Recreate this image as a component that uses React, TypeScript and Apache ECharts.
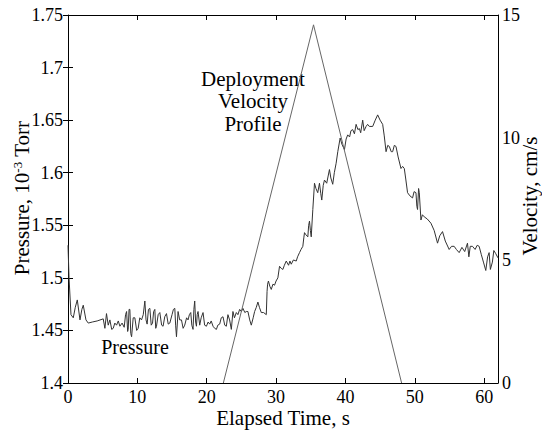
import React, { useEffect, useRef } from "react";
import * as echarts from "echarts";

// Pressure trace: [elapsed time (s), pressure (10^-3 Torr)]
const pressureData: [number, number][] = [
  [0, 1.531], [0.15, 1.5], [0.43, 1.465], [0.76, 1.462], [1.05, 1.472], [1.34, 1.479],
  [1.73, 1.46], [2.0, 1.47], [2.2, 1.474], [2.59, 1.46], [2.92, 1.457], [3.5, 1.458],
  [4.2, 1.459], [5.08, 1.461], [5.32, 1.452], [5.55, 1.466], [5.8, 1.455], [6.04, 1.46],
  [6.3, 1.451], [6.52, 1.452], [6.75, 1.457], [7.0, 1.455], [7.25, 1.459], [7.48, 1.454],
  [7.8, 1.457], [8.1, 1.453], [8.3, 1.465], [8.45, 1.468], [8.6, 1.449], [8.68, 1.451],
  [8.8, 1.47], [8.92, 1.47], [9.05, 1.447], [9.17, 1.444], [9.4, 1.462], [9.64, 1.462],
  [9.9, 1.45], [10.12, 1.452], [10.35, 1.462], [10.6, 1.46], [10.85, 1.465], [11.08, 1.478],
  [11.25, 1.46], [11.41, 1.456], [11.6, 1.47], [11.8, 1.471], [12.0, 1.455], [12.19, 1.457],
  [12.35, 1.468], [12.52, 1.47], [12.65, 1.452], [12.76, 1.454], [13.0, 1.465], [13.24, 1.467],
  [13.5, 1.455], [13.71, 1.454], [13.95, 1.463], [14.2, 1.466], [14.45, 1.456], [14.68, 1.457],
  [15.0, 1.465], [15.2, 1.47], [15.4, 1.471], [15.52, 1.455], [15.64, 1.444], [15.87, 1.468],
  [16.1, 1.46], [16.36, 1.46], [16.6, 1.452], [16.83, 1.455], [17.1, 1.462], [17.31, 1.46],
  [17.5, 1.465], [17.7, 1.467], [17.85, 1.455], [18.03, 1.451], [18.15, 1.47], [18.27, 1.478],
  [18.4, 1.458], [18.52, 1.454], [18.63, 1.465], [18.75, 1.468], [18.99, 1.455], [19.2, 1.462],
  [19.47, 1.467], [19.7, 1.455], [19.96, 1.454], [20.2, 1.458], [20.43, 1.456], [20.65, 1.459],
  [20.91, 1.454], [21.15, 1.452], [21.4, 1.451], [21.6, 1.455], [21.87, 1.456], [22.1, 1.462],
  [22.35, 1.463], [22.6, 1.455], [22.83, 1.454], [23.06, 1.465], [23.3, 1.46], [23.55, 1.451],
  [23.78, 1.468], [24.0, 1.462], [24.27, 1.467], [24.5, 1.465], [24.75, 1.47], [25.0, 1.468],
  [25.22, 1.471], [25.5, 1.467], [25.71, 1.468], [25.94, 1.468], [26.2, 1.46], [26.43, 1.455],
  [26.7, 1.462], [26.91, 1.468], [27.15, 1.472], [27.38, 1.477], [27.6, 1.472], [27.87, 1.467],
  [28.2, 1.467], [28.59, 1.465], [28.7, 1.487], [28.78, 1.494], [28.9, 1.497], [29.1, 1.492],
  [29.31, 1.489], [29.55, 1.494], [29.78, 1.493], [30.0, 1.497], [30.26, 1.5], [30.5, 1.511],
  [30.75, 1.509], [30.98, 1.508], [31.2, 1.512], [31.47, 1.516], [31.8, 1.512], [32.0, 1.516],
  [32.19, 1.513], [32.5, 1.517], [32.91, 1.516], [33.1, 1.52], [33.38, 1.524], [33.6, 1.527],
  [33.86, 1.53], [34.0, 1.538], [34.1, 1.543], [34.3, 1.541], [34.58, 1.539], [34.7, 1.55],
  [34.82, 1.554], [34.95, 1.545], [35.07, 1.539], [35.3, 1.565], [35.54, 1.59], [35.75, 1.585],
  [36.01, 1.581], [36.26, 1.59], [36.45, 1.58], [36.59, 1.574], [36.8, 1.588], [36.98, 1.593],
  [37.3, 1.59], [37.7, 1.603], [37.9, 1.595], [38.17, 1.589], [38.4, 1.6], [38.66, 1.609],
  [38.9, 1.62], [39.24, 1.633], [39.5, 1.627], [39.86, 1.622], [40.1, 1.632], [40.33, 1.636],
  [40.6, 1.634], [40.8, 1.64], [41.05, 1.641], [41.3, 1.637], [41.54, 1.646], [41.8, 1.641],
  [42.01, 1.642], [42.2, 1.638], [42.49, 1.65], [42.7, 1.64], [42.98, 1.644], [43.2, 1.646],
  [43.45, 1.644], [43.93, 1.644], [44.3, 1.65], [44.65, 1.655], [45.0, 1.65], [45.37, 1.646],
  [45.6, 1.635], [45.86, 1.62], [46.1, 1.626], [46.33, 1.625], [46.6, 1.62], [46.81, 1.62],
  [47.05, 1.626], [47.29, 1.625], [47.6, 1.615], [48.01, 1.604], [48.25, 1.606], [48.49, 1.604],
  [48.7, 1.594], [48.96, 1.581], [49.3, 1.578], [49.68, 1.576], [49.9, 1.582], [50.17, 1.581],
  [50.3, 1.568], [50.4, 1.565], [50.55, 1.585], [50.65, 1.581], [50.89, 1.555], [51.1, 1.56],
  [51.37, 1.558], [51.8, 1.556], [52.33, 1.552], [52.8, 1.545], [53.28, 1.533], [53.6, 1.54],
  [54.0, 1.544], [54.4, 1.535], [54.96, 1.527], [55.3, 1.53], [55.68, 1.53], [56.0, 1.527],
  [56.4, 1.524], [56.8, 1.529], [57.2, 1.525], [57.6, 1.533], [57.8, 1.52], [58.0, 1.53],
  [58.32, 1.53], [58.7, 1.527], [59.0, 1.531], [59.28, 1.53], [59.6, 1.522], [59.9, 1.515],
  [60.24, 1.507], [60.5, 1.52], [60.72, 1.524], [60.9, 1.508], [61.19, 1.515], [61.4, 1.526],
  [61.68, 1.523], [62.0, 1.519],
];

// Deployment velocity profile: [elapsed time (s), velocity (cm/s)]
const velocityData: [number, number][] = [
  [22.4, 0],
  [35.4, 14.6],
  [48.1, 0],
];

const timeTicks = { min: 0, max: 62, interval: 10 };
const pressureTicks = { min: 1.4, max: 1.75, interval: 0.05 };
const velocityTicks = { min: 0, max: 15, interval: 5 };

const FONT = "'Liberation Serif', 'Times New Roman', serif";
const INK = "#000";

export default function App() {
  const ref = useRef<HTMLDivElement>(null);

  useEffect(() => {
    if (!ref.current) return;
    const chart = echarts.init(ref.current, undefined, { renderer: "svg" });

    const tickLabel = { color: INK, fontFamily: FONT, fontSize: 18 };
    const axisLine = { show: true, lineStyle: { color: INK, width: 1 } };
    const tickIn = { show: true, inside: true, length: 5, lineStyle: { color: INK } };

    chart.setOption({
      animation: false,
      backgroundColor: "#fff",
      grid: { left: 68, right: 44, top: 15, bottom: 48, containLabel: false },
      xAxis: [
        {
          type: "value",
          position: "bottom",
          ...timeTicks,
          axisLine: { ...axisLine, onZero: false },
          axisTick: tickIn,
          axisLabel: { ...tickLabel, margin: 5, showMaxLabel: false },
          splitLine: { show: false },
        },
        {
          type: "value",
          position: "top",
          ...timeTicks,
          axisLine: { ...axisLine, onZero: false },
          axisTick: tickIn,
          axisLabel: { show: false },
          splitLine: { show: false },
        },
      ],
      yAxis: [
        {
          type: "value",
          position: "left",
          ...pressureTicks,
          axisLine: { ...axisLine, onZero: false },
          axisTick: tickIn,
          axisLabel: { ...tickLabel, margin: 5 },
          splitLine: { show: false },
        },
        {
          type: "value",
          position: "right",
          ...velocityTicks,
          axisLine: { ...axisLine, onZero: false },
          axisTick: { show: false },
          axisLabel: { ...tickLabel, margin: 4 },
          splitLine: { show: false },
        },
        {
          type: "value",
          position: "right",
          ...pressureTicks,
          axisLine: { show: false },
          axisTick: tickIn,
          axisLabel: { show: false },
          splitLine: { show: false },
        },
      ],
      series: [
        {
          name: "Pressure",
          type: "line",
          xAxisIndex: 0,
          yAxisIndex: 0,
          data: pressureData,
          showSymbol: false,
          lineStyle: { color: "#333", width: 1 },
        },
        {
          name: "Velocity",
          type: "line",
          xAxisIndex: 0,
          yAxisIndex: 1,
          data: velocityData,
          showSymbol: false,
          lineStyle: { color: "#666", width: 1 },
        },
      ],
      graphic: [
        {
          type: "text",
          x: 22,
          y: 198,
          rotation: Math.PI / 2,
          style: {
            text: "{n|Pressure, 10}{s|-3}{n| Torr}",
            align: "center",
            verticalAlign: "middle",
            fill: INK,
            rich: {
              n: { fontFamily: FONT, fontSize: 21, lineHeight: 22, fill: INK },
              s: { fontFamily: FONT, fontSize: 13, lineHeight: 22, verticalAlign: "top", fill: INK },
            },
          },
        },
        {
          type: "text",
          x: 530,
          y: 196,
          rotation: Math.PI / 2,
          style: {
            text: "Velocity, cm/s",
            font: `21px ${FONT}`,
            align: "center",
            verticalAlign: "middle",
            fill: INK,
          },
        },
        {
          type: "text",
          x: 283,
          y: 418,
          style: {
            text: "Elapsed Time, s",
            font: `21px ${FONT}`,
            align: "center",
            verticalAlign: "middle",
            fill: INK,
          },
        },
        {
          type: "text",
          x: 253,
          y: 101,
          style: {
            text: "Deployment\nVelocity\nProfile",
            font: `21px ${FONT}`,
            lineHeight: 22.5,
            align: "center",
            verticalAlign: "middle",
            fill: INK,
          },
        },
        {
          type: "text",
          x: 135,
          y: 347,
          style: {
            text: "Pressure",
            font: `20px ${FONT}`,
            align: "center",
            verticalAlign: "middle",
            fill: INK,
          },
        },
      ],
    });

    return () => chart.dispose();
  }, []);

  return (
    <div
      ref={ref}
      style={{ position: "absolute", left: 0, top: 0, width: 542, height: 431 }}
    />
  );
}
